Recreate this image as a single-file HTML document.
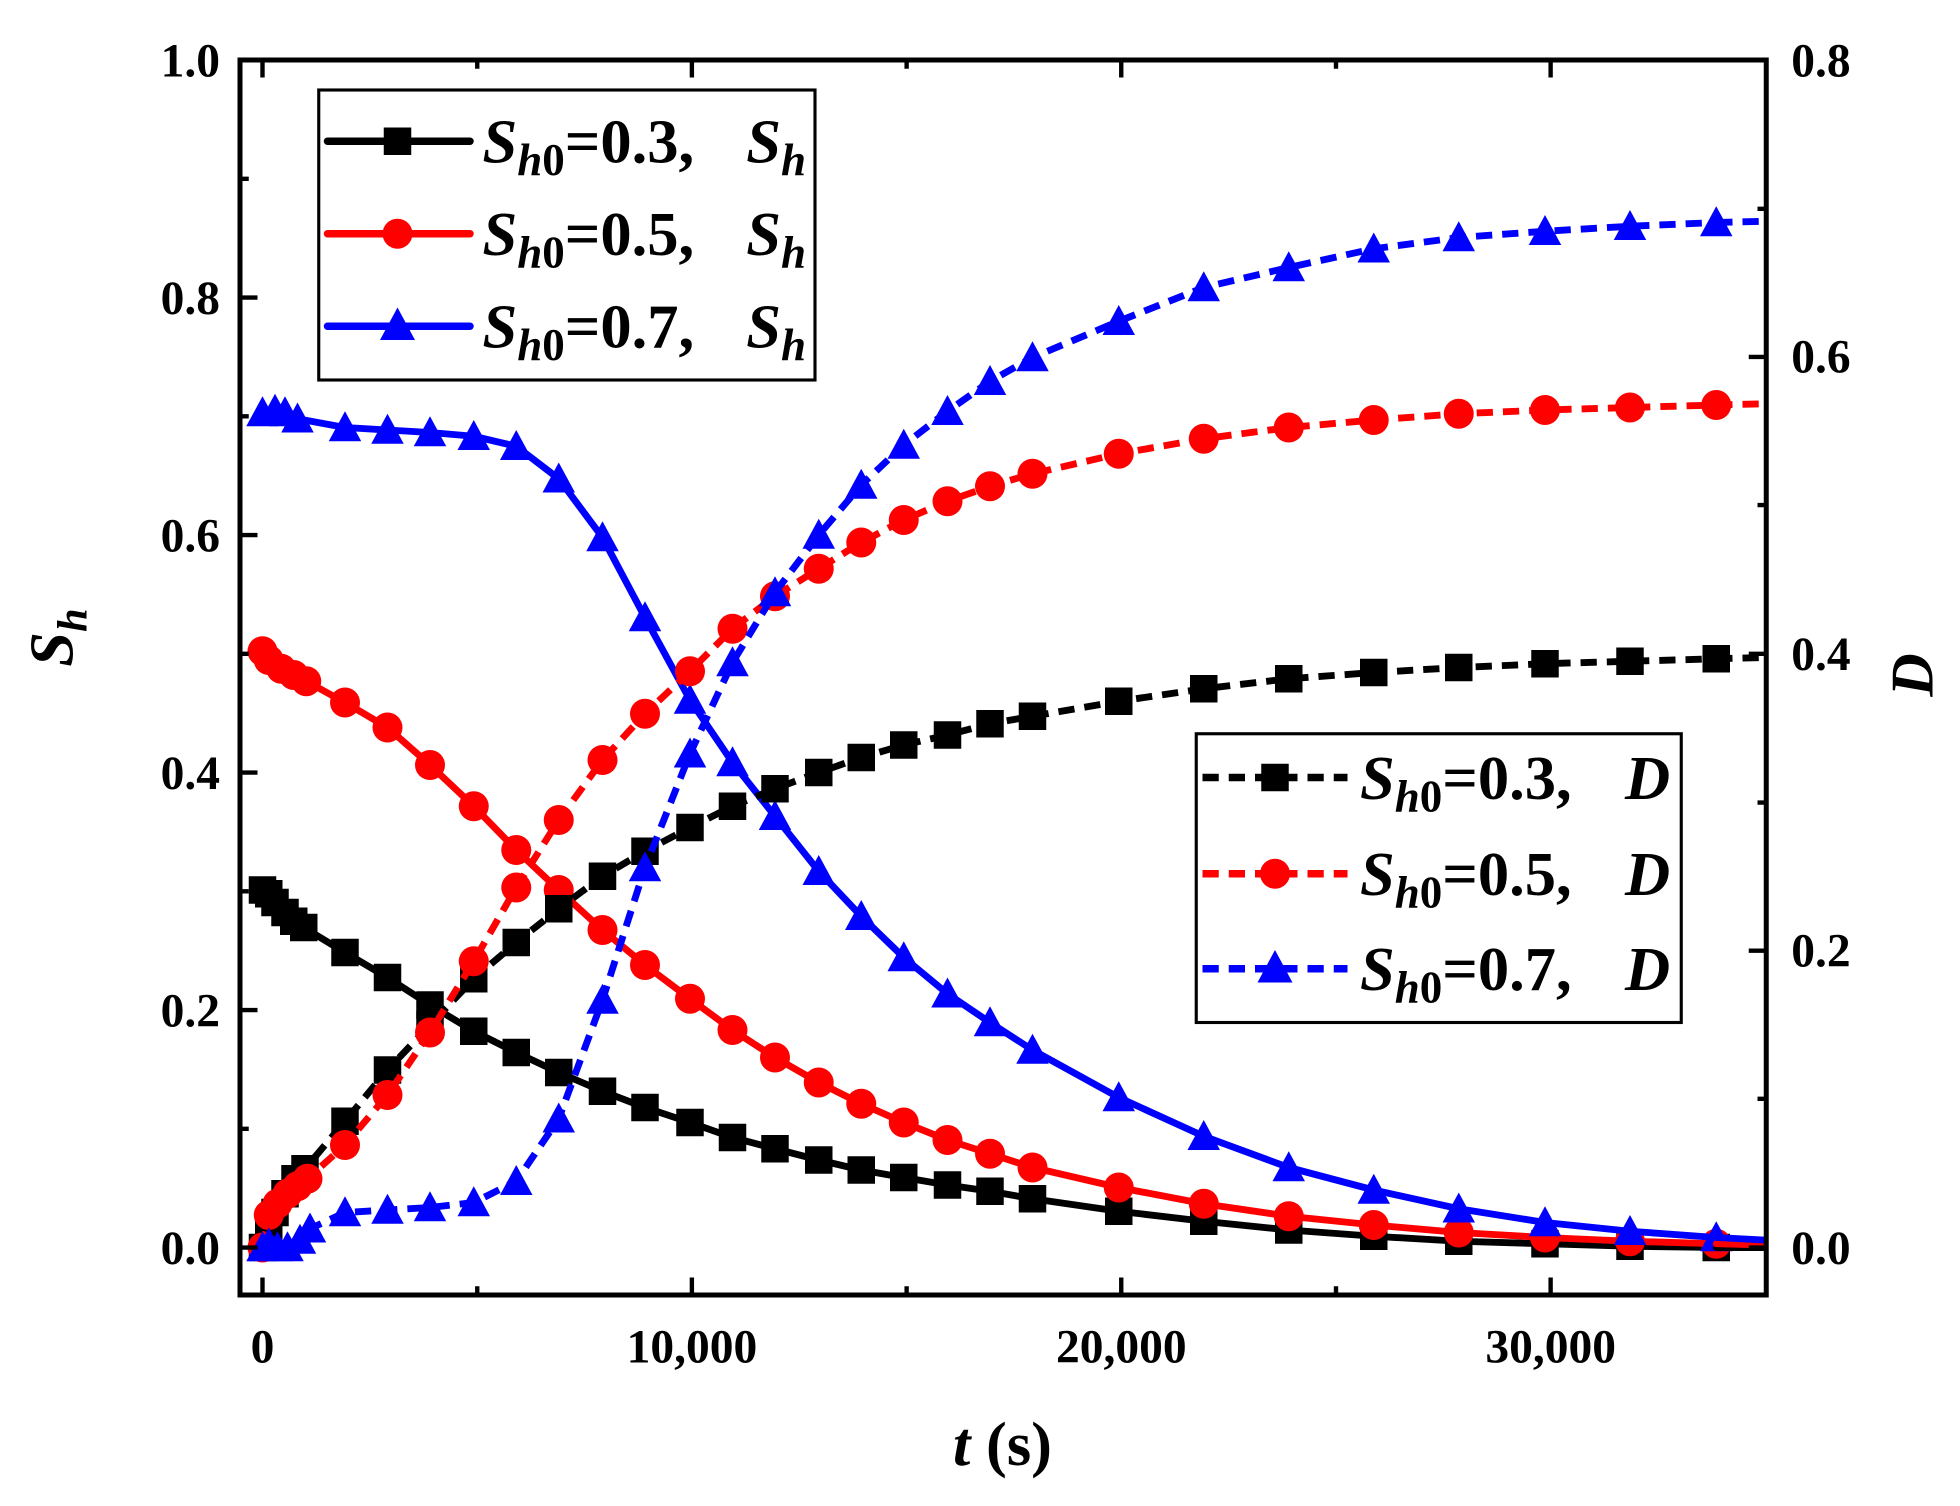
<!DOCTYPE html>
<html><head><meta charset="utf-8"><style>html,body{margin:0;padding:0;background:#fff}svg{display:block}</style></head>
<body>
<svg width="1960" height="1506" viewBox="0 0 1568 1204.8" xmlns="http://www.w3.org/2000/svg" font-family="'Liberation Serif', serif" font-weight="bold">
<defs>
<marker id="mk" markerUnits="userSpaceOnUse" markerWidth="30" markerHeight="30" refX="15" refY="15" overflow="visible"><rect x="4" y="4" width="22" height="22" fill="#000"/></marker>
<marker id="mr" markerUnits="userSpaceOnUse" markerWidth="30" markerHeight="30" refX="15" refY="15" overflow="visible"><circle cx="15" cy="15" r="12" fill="#f00"/></marker>
<marker id="mb" markerUnits="userSpaceOnUse" markerWidth="30" markerHeight="30" refX="15" refY="15" overflow="visible"><polygon points="15,2 28,26 2,26" fill="#00f"/></marker>
</defs>
<rect width="1568" height="1205" fill="#fff"/>
<g fill="none" stroke-width="5.5" stroke-linejoin="round" stroke-linecap="round">
<polyline stroke="#000" marker-start="url(#mk)" marker-mid="url(#mk)" marker-end="url(#mk)" points="210,712 215,715 220,722 228,730 235,737 243,742 276,762 310,782 344,804 379,825 413,842 447,858 482,873 516,886 552,898 586,910 620,919 655,928 689,936 723,942 758,948 792,953 826,959 895,969 963,977 1031,984 1099,989 1167,993 1236,995 1304,997 1373,998"/>
<polyline stroke="#f00" marker-start="url(#mr)" marker-mid="url(#mr)" marker-end="url(#mr)" points="210,521 215,528 225,535 235,540 245,545 276,562 310,582 344,612 379,645 413,680 447,712 482,744 516,772 552,799 586,824 620,846 655,866 689,883 723,898 758,912 792,923 826,934 895,950 963,963 1031,973 1099,980 1167,986 1236,990 1304,993 1373,995"/>
<polyline stroke="#00f" marker-start="url(#mb)" marker-mid="url(#mb)" marker-end="url(#mb)" points="210,330 220,328 228,330 238,335 276,342 310,344 344,346 379,349 413,357 447,383 482,430 516,494 552,560 586,610 620,653 655,697 689,733 723,766 758,795 792,818 826,840 895,878 963,909 1031,934 1099,952 1167,967 1236,978 1304,985 1373,990"/>
<polyline stroke="#000" points="1373,998 1411,998"/>
<polyline stroke="#f00" points="1373,995 1411,996"/>
<polyline stroke="#00f" points="1373,990 1411,992"/>
<g stroke-dasharray="13,8" stroke-linecap="butt">
<polyline stroke="#000" marker-start="url(#mk)" marker-mid="url(#mk)" marker-end="url(#mk)" points="210,998 215,985 220,970 228,955 236,943 244,935 276,897 310,856 344,820 379,783 413,754 447,727 482,701 516,681 552,662 586,645 620,631 655,618 689,606 723,596 758,588 792,579 826,573 895,561 963,551 1031,543 1099,538 1167,534 1236,531 1304,529 1373,527"/>
<polyline stroke="#f00" marker-start="url(#mr)" marker-mid="url(#mr)" marker-end="url(#mr)" points="210,998 215,972 222,963 230,955 238,949 246,943 276,916 310,876 344,826 379,769 413,710 447,656 482,608 516,571 552,537 586,503 620,477 655,455 689,434 723,416 758,401 792,389 826,379 895,363 963,351 1031,342 1099,336 1167,331 1236,328 1304,326 1373,324"/>
<polyline stroke="#00f" marker-start="url(#mb)" marker-mid="url(#mb)" marker-end="url(#mb)" points="210,998 215,995 222,998 230,998 240,992 248,983 276,970 310,968 344,966 379,962 413,945 447,895 482,800 516,694 552,603 586,530 620,474 655,428 689,388 723,356 758,329 792,305 826,286 895,257 963,230 1031,214 1099,199 1167,190 1236,185 1304,181 1373,178"/>
<polyline stroke="#000" points="1373,527 1411,526"/>
<polyline stroke="#f00" points="1373,324 1411,323"/>
<polyline stroke="#00f" points="1373,178 1411,177"/>
</g>
</g>
<rect x="192" y="48" width="1221" height="988" fill="none" stroke="#000" stroke-width="4"/>
<g stroke="#000" stroke-width="3.5">
<path d="M192,998h14M192,808h14M192,618h14M192,428h14M192,238h14M192,903h7M192,713h7M192,523h7M192,333h7M192,143h7"/>
<path d="M1413,998h-14M1413,760.5h-14M1413,523h-14M1413,285.5h-14M1413,879h-7M1413,642h-7M1413,404h-7M1413,167h-7"/>
<path d="M210,1036v-14M553.5,1036v-14M897,1036v-14M1240.5,1036v-14M381.8,1036v-7M725.3,1036v-7M1068.8,1036v-7"/>
<path d="M210,48v14M553.5,48v14M897,48v14M1240.5,48v14M381.8,48v7M725.3,48v7M1068.8,48v7"/>
</g>
<g font-size="38" fill="#000">
<g text-anchor="end">
<text x="176" y="1011">0.0</text><text x="176" y="821">0.2</text><text x="176" y="631">0.4</text><text x="176" y="441">0.6</text><text x="176" y="251">0.8</text><text x="176" y="61">1.0</text>
</g>
<text x="1433" y="1011">0.0</text><text x="1433" y="773">0.2</text><text x="1433" y="536">0.4</text><text x="1433" y="298">0.6</text><text x="1433" y="61">0.8</text>
<g text-anchor="middle">
<text x="210" y="1090">0</text><text x="553.5" y="1090">10,000</text><text x="897" y="1090">20,000</text><text x="1240.5" y="1090">30,000</text>
</g>
</g>
<text x="802" y="1172" font-size="50" text-anchor="middle"><tspan font-style="italic">t</tspan> (s)</text>
<text transform="translate(58,510) rotate(-90)" font-size="50" text-anchor="middle"><tspan font-style="italic">S</tspan><tspan font-style="italic" font-size="34" dy="11">h</tspan></text>
<text transform="translate(1546,540) rotate(-90)" font-size="48" text-anchor="middle" font-style="italic">D</text>
<rect x="255" y="72" width="397" height="232" fill="#fff" stroke="#000" stroke-width="2.5"/>
<g stroke-width="6" stroke-linecap="round">
<line x1="262" y1="113" x2="376" y2="113" stroke="#000"/>
<line x1="262" y1="187" x2="376" y2="187" stroke="#f00"/>
<line x1="262" y1="261" x2="376" y2="261" stroke="#00f"/>
</g>
<rect x="307" y="102" width="22" height="22" fill="#000"/>
<circle cx="318" cy="187" r="12" fill="#f00"/>
<polygon points="318,246 332,272 304,272" fill="#00f"/>
<g font-size="50" fill="#000">
<text x="386" y="130"><tspan font-style="italic">S</tspan><tspan font-style="italic" font-size="36" dy="10">h</tspan><tspan font-size="36">0</tspan><tspan dy="-10">=0.3,</tspan><tspan x="597" font-style="italic">S</tspan><tspan font-style="italic" font-size="36" dy="10">h</tspan></text>
<text x="386" y="204"><tspan font-style="italic">S</tspan><tspan font-style="italic" font-size="36" dy="10">h</tspan><tspan font-size="36">0</tspan><tspan dy="-10">=0.5,</tspan><tspan x="597" font-style="italic">S</tspan><tspan font-style="italic" font-size="36" dy="10">h</tspan></text>
<text x="386" y="278"><tspan font-style="italic">S</tspan><tspan font-style="italic" font-size="36" dy="10">h</tspan><tspan font-size="36">0</tspan><tspan dy="-10">=0.7,</tspan><tspan x="597" font-style="italic">S</tspan><tspan font-style="italic" font-size="36" dy="10">h</tspan></text>
</g>
<rect x="957" y="587" width="388" height="231" fill="#fff" stroke="#000" stroke-width="2.5"/>
<g stroke-width="6" stroke-dasharray="13,8">
<line x1="962" y1="622" x2="1078" y2="622" stroke="#000"/>
<line x1="962" y1="699" x2="1078" y2="699" stroke="#f00"/>
<line x1="962" y1="775" x2="1078" y2="775" stroke="#00f"/>
</g>
<rect x="1009" y="611" width="22" height="22" fill="#000"/>
<circle cx="1020" cy="699" r="12" fill="#f00"/>
<polygon points="1020,760 1034,786 1006,786" fill="#00f"/>
<g font-size="50" fill="#000">
<text x="1088" y="639"><tspan font-style="italic">S</tspan><tspan font-style="italic" font-size="36" dy="10">h</tspan><tspan font-size="36">0</tspan><tspan dy="-10">=0.3,</tspan><tspan x="1300" font-style="italic">D</tspan></text>
<text x="1088" y="716"><tspan font-style="italic">S</tspan><tspan font-style="italic" font-size="36" dy="10">h</tspan><tspan font-size="36">0</tspan><tspan dy="-10">=0.5,</tspan><tspan x="1300" font-style="italic">D</tspan></text>
<text x="1088" y="792"><tspan font-style="italic">S</tspan><tspan font-style="italic" font-size="36" dy="10">h</tspan><tspan font-size="36">0</tspan><tspan dy="-10">=0.7,</tspan><tspan x="1300" font-style="italic">D</tspan></text>
</g>
</svg>
</body></html>
